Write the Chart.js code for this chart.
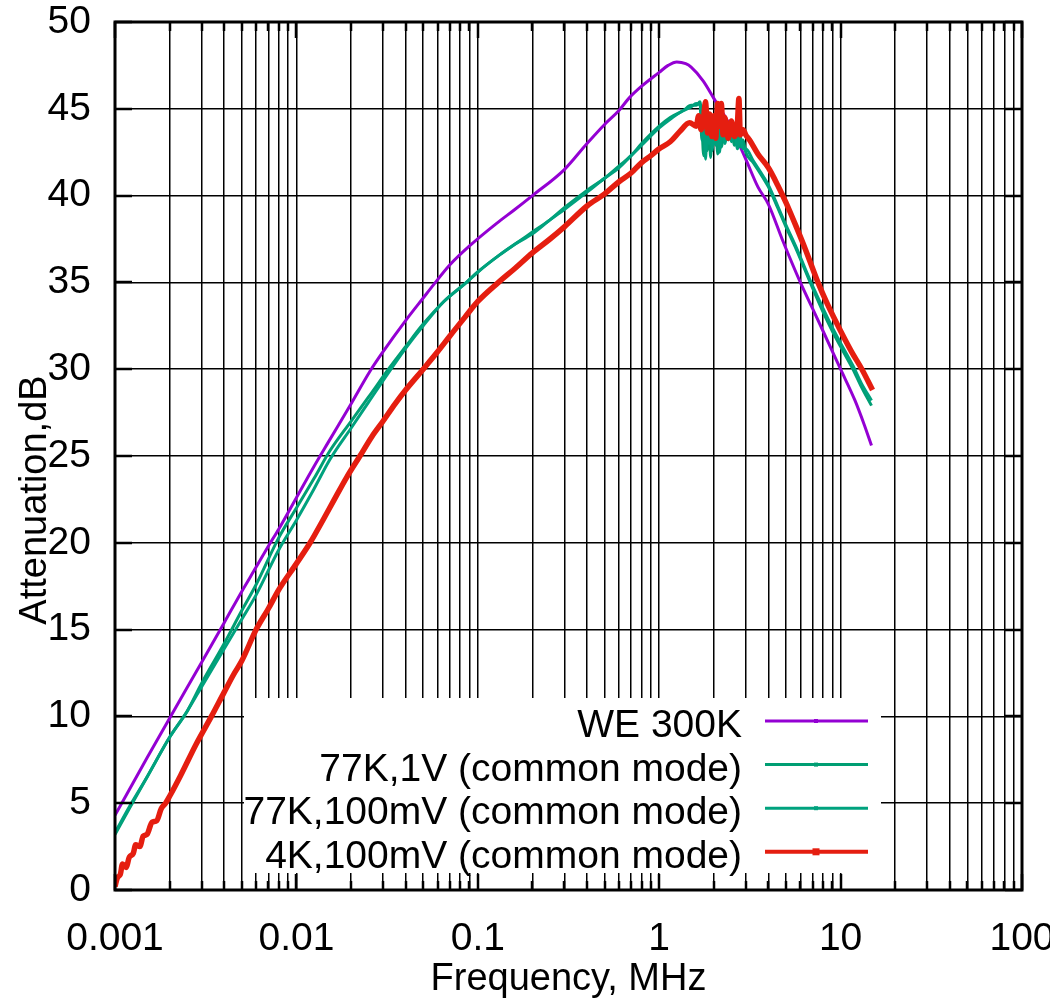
<!DOCTYPE html>
<html>
<head>
<meta charset="utf-8">
<script src="https://cdn.jsdelivr.net/npm/chart.js@4.4.1/dist/chart.umd.min.js"></script>
<style>
html, body { margin: 0; padding: 0; overflow: hidden; background: #fff; }
</style>
</head>
<body>
<canvas id="chart" width="1050" height="1000"></canvas>
<script>
// axis ticks
const xTickValues = [0.001, 0.01, 0.1, 1, 10, 100];
const xTickLabels = ['0.001', '0.01', '0.1', '1', '10', '100'];
const yTickValues = [0, 5, 10, 15, 20, 25, 30, 35, 40, 45, 50];

// WE 300K
const weFreq = [0.001, 0.0015, 0.002, 0.003, 0.004, 0.005, 0.006, 0.007, 0.008, 0.01, 0.0125, 0.015, 0.02, 0.0255, 0.03, 0.04, 0.05, 0.0574, 0.07, 0.09, 0.127, 0.16, 0.2, 0.3, 0.4, 0.5, 0.6, 0.68, 0.8, 1.0, 1.12, 1.25, 1.4, 1.5, 1.75, 2.0, 2.5, 3.0, 3.5, 4.0, 4.8, 6.0, 7.0, 8.0, 10, 12, 13.5, 14.8];
const weAtt = [4.3, 7.6, 9.9, 13.1, 15.4, 17.2, 18.6, 19.8, 20.8, 22.6, 24.4, 25.8, 28.0, 29.9, 31.0, 32.8, 34.1, 34.9, 36.0, 37.1, 38.4, 39.2, 40.0, 41.5, 43.0, 44.1, 44.9, 45.6, 46.3, 47.1, 47.5, 47.7, 47.6, 47.4, 46.6, 45.6, 43.9, 42.1, 40.5, 39.5, 37.4, 35.0, 33.5, 32.2, 30.0, 28.2, 26.8, 25.6];

// 77K, 1V
const k77v1Freq = [0.001, 0.0012, 0.0015, 0.002, 0.0025, 0.003, 0.004, 0.005, 0.006, 0.008, 0.01, 0.0125, 0.0153, 0.02, 0.025, 0.0327, 0.04, 0.05, 0.065, 0.0866, 0.1, 0.1325, 0.16, 0.2, 0.25, 0.3, 0.4, 0.5, 0.6, 0.7, 0.8, 1.0, 1.15, 1.36, 1.5, 1.6, 1.68, 1.72, 1.76, 1.8, 1.84, 1.88, 1.92, 1.96, 2.0, 2.05, 2.1, 2.15, 2.2, 2.3, 2.4, 2.5, 2.6, 2.7, 2.8, 2.9, 3.0, 3.3, 3.75, 4.0, 4.5, 5.0, 5.7, 6.8, 8.0, 9.0, 10, 11.7, 13, 14.8];
const k77v1Att = [3.2, 4.7, 6.5, 8.8, 10.3, 11.9, 14.2, 16.1, 17.6, 20.3, 22.0, 23.7, 25.3, 27.0, 28.4, 30.1, 31.3, 32.6, 33.9, 35.0, 35.6, 36.6, 37.2, 37.9, 38.6, 39.3, 40.3, 41.0, 41.7, 42.3, 43.0, 44.0, 44.5, 44.9, 45.2, 45.2, 45.4, 44.0, 42.3, 44.6, 42.6, 44.5, 42.2, 44.0, 43.0, 44.4, 42.4, 43.8, 42.8, 44.2, 43.2, 44.0, 42.9, 43.6, 42.8, 43.2, 42.5, 41.9, 41.0, 40.5, 39.3, 38.2, 36.9, 35.0, 33.3, 32.2, 31.3, 30.0, 29.0, 27.9];

// 77K, 100mV
const k77mvFreq = [0.001, 0.0012, 0.0015, 0.002, 0.0025, 0.003, 0.004, 0.005, 0.006, 0.008, 0.01, 0.0125, 0.0153, 0.02, 0.025, 0.0327, 0.04, 0.05, 0.065, 0.0866, 0.1, 0.1325, 0.16, 0.2, 0.25, 0.3, 0.4, 0.5, 0.6, 0.7, 0.8, 1.0, 1.15, 1.36, 1.5, 1.6, 1.68, 1.72, 1.76, 1.8, 1.84, 1.88, 1.92, 1.96, 2.0, 2.05, 2.1, 2.15, 2.2, 2.3, 2.4, 2.5, 2.6, 2.7, 2.8, 2.9, 3.0, 3.3, 3.75, 4.0, 4.5, 5.0, 5.7, 6.8, 8.0, 9.0, 10, 11.7, 13, 14.8];
const k77mvAtt = [3.3, 4.8, 6.5, 8.8, 10.3, 11.7, 13.9, 15.6, 17.0, 19.6, 21.3, 23.1, 24.8, 26.6, 28.1, 29.9, 31.2, 32.5, 33.9, 35.0, 35.6, 36.6, 37.2, 37.8, 38.6, 39.2, 40.2, 41.0, 41.6, 42.3, 42.9, 43.9, 44.4, 44.9, 45.1, 45.3, 45.2, 43.2, 44.8, 42.1, 44.2, 43.0, 44.7, 42.6, 44.3, 42.9, 44.0, 42.5, 43.9, 43.0, 44.1, 43.1, 43.8, 42.7, 43.4, 42.7, 42.7, 42.0, 41.1, 40.6, 39.4, 38.3, 37.0, 35.1, 33.5, 32.4, 31.5, 30.2, 29.2, 28.2];

// 4K, 100mV
const k4Freq = [0.001, 0.00103, 0.00107, 0.0011, 0.00115, 0.0012, 0.00126, 0.0013, 0.00137, 0.00143, 0.0015, 0.0016, 0.0017, 0.0018, 0.0019, 0.002, 0.0023, 0.0028, 0.0034, 0.004, 0.0045, 0.005, 0.006, 0.007, 0.008, 0.01, 0.0119, 0.014, 0.016, 0.019, 0.0224, 0.026, 0.03, 0.035, 0.04, 0.05, 0.06, 0.07, 0.085, 0.1, 0.13, 0.16, 0.2, 0.25, 0.3, 0.4, 0.5, 0.6, 0.7, 0.8, 0.9, 1.0, 1.15, 1.3, 1.47, 1.6, 1.65, 1.7, 1.75, 1.8, 1.85, 1.9, 1.95, 2.0, 2.05, 2.1, 2.15, 2.2, 2.25, 2.3, 2.4, 2.5, 2.6, 2.7, 2.75, 2.8, 2.9, 3.0, 3.15, 3.5, 4.0, 4.5, 5.0, 5.7, 6.4, 7.5, 8.5, 10, 11.5, 13.1, 15];
const k4Att = [0.2, 0.7, 0.9, 1.5, 1.3, 1.9, 2.1, 2.6, 2.5, 3.1, 3.2, 3.9, 4.0, 4.7, 5.0, 5.4, 6.6, 8.4, 10.0, 11.4, 12.4, 13.2, 15.0, 16.2, 17.3, 18.8, 20.0, 21.3, 22.4, 23.8, 25.0, 26.1, 27.0, 28.0, 28.8, 30.0, 31.0, 31.9, 33.0, 33.9, 35.0, 35.8, 36.7, 37.5, 38.2, 39.4, 40.1, 40.8, 41.3, 41.9, 42.3, 42.7, 43.1, 43.7, 44.2, 44.0, 44.6, 43.8, 44.3, 45.4, 43.6, 44.7, 43.4, 44.6, 43.3, 45.3, 44.0, 45.3, 43.5, 44.5, 43.3, 44.3, 43.4, 44.2, 45.6, 43.5, 43.8, 43.5, 43.2, 42.4, 41.6, 40.6, 39.6, 38.2, 36.9, 35.0, 33.7, 32.2, 31.0, 30.0, 28.8];

const seriesLabels = ['WE 300K', '77K,1V (common mode)', '77K,100mV (common mode)', '4K,100mV (common mode)'];
const seriesColors = ['#9400d3', '#009e73', '#00a27e', '#e51e10'];
const seriesWidths = [3, 3, 3, 5.5];

const FONT = '"Liberation Sans", Arial, sans-serif';

function toPoints(fs, vs) {
    return fs.map((f, i) => ({ x: f, y: vs[i] }));
}

// minor ticks 2..9 inside each decade
const xAllTicks = [];
xTickValues.forEach((d, i) => {
    xAllTicks.push({ value: d, major: true });
    if (i < xTickValues.length - 1) {
        for (let m = 2; m <= 9; m++) xAllTicks.push({ value: d * m, major: false });
    }
});

const legendBox = { left: 244, top: 698, right: 881, bottom: 873 };

const framePlugin = {
    id: 'framePlugin',
    beforeDatasetsDraw(chart) {
        const ctx = chart.ctx;
        ctx.save();
        ctx.fillStyle = '#fff';
        ctx.fillRect(legendBox.left, legendBox.top, legendBox.right - legendBox.left, legendBox.bottom - legendBox.top);
        ctx.restore();
    },
    afterDraw(chart) {
        const ctx = chart.ctx;
        const a = chart.chartArea;
        const xs = chart.scales.x;
        const ys = chart.scales.y;
        ctx.save();
        ctx.strokeStyle = '#000';
        ctx.lineWidth = 2.5;
        ctx.beginPath();
        xAllTicks.forEach(t => {
            const px = Math.round(xs.getPixelForValue(t.value));
            const len = t.major ? 16 : 9;
            ctx.moveTo(px, a.bottom); ctx.lineTo(px, a.bottom - len);
            ctx.moveTo(px, a.top); ctx.lineTo(px, a.top + len);
        });
        yTickValues.forEach(v => {
            const py = Math.round(ys.getPixelForValue(v));
            ctx.moveTo(a.left, py); ctx.lineTo(a.left + 17, py);
            ctx.moveTo(a.right, py); ctx.lineTo(a.right - 17, py);
        });
        ctx.stroke();
        ctx.lineWidth = 3;
        ctx.strokeRect(a.left, a.top, a.right - a.left, a.bottom - a.top);

        // axis titles
        ctx.fillStyle = '#000';
        ctx.font = '38px ' + FONT;
        ctx.textAlign = 'center';
        ctx.textBaseline = 'alphabetic';
        ctx.fillText('Frequency, MHz', (a.left + a.right) / 2, 990);
        ctx.save();
        ctx.translate(46, 500);
        ctx.rotate(-Math.PI / 2);
        ctx.fillText('Attenuation,dB', 0, 0);
        ctx.restore();

        // legend
        ctx.font = '39px ' + FONT;
        ctx.textAlign = 'right';
        seriesLabels.forEach((label, i) => {
            const rowY = 721 + i * 43.6;
            ctx.fillStyle = '#000';
            ctx.fillText(label, 742, rowY + 16);
            ctx.strokeStyle = seriesColors[i];
            ctx.lineWidth = i === 3 ? 4 : 3;
            ctx.beginPath();
            ctx.moveTo(765, rowY);
            ctx.lineTo(868, rowY);
            ctx.stroke();
            ctx.fillStyle = seriesColors[i];
            const s = i === 3 ? 7 : 4;
            ctx.fillRect(816 - s / 2, rowY - s / 2, s, s);
        });
        ctx.restore();
    }
};

const datasets = [
    toPoints(weFreq, weAtt),
    toPoints(k77v1Freq, k77v1Att),
    toPoints(k77mvFreq, k77mvAtt),
    toPoints(k4Freq, k4Att)
].map((pts, i) => ({
    label: seriesLabels[i],
    data: pts,
    borderColor: seriesColors[i],
    backgroundColor: seriesColors[i],
    borderWidth: seriesWidths[i],
    pointRadius: 0,
    cubicInterpolationMode: 'monotone',
    fill: false,
    order: 4 - i
}));

const ctx = document.getElementById('chart').getContext('2d');
new Chart(ctx, {
    type: 'line',
    data: { datasets: datasets },
    options: {
        responsive: false,
        animation: false,
        layout: { padding: { top: 22, right: 28, bottom: 0, left: 0 } },
        plugins: {
            legend: { display: false },
            tooltip: { enabled: false }
        },
        scales: {
            x: {
                type: 'logarithmic',
                min: 0.001,
                max: 100,
                afterBuildTicks: s => { s.ticks = xAllTicks.map(t => ({ value: t.value, major: t.major })); },
                afterFit: s => { s.height = 110; s.paddingLeft = 0; s.paddingRight = 0; },
                border: { display: false },
                grid: { color: '#000', lineWidth: 1.5, drawTicks: false },
                ticks: {
                    autoSkip: false,
                    maxRotation: 0,
                    padding: 26,
                    color: '#000',
                    font: { family: FONT, size: 39 },
                    callback: v => {
                        const i = xTickValues.findIndex(d => Math.abs(d - v) / d < 1e-6);
                        return i >= 0 ? xTickLabels[i] : '';
                    }
                }
            },
            y: {
                min: 0,
                max: 50,
                afterBuildTicks: s => { s.ticks = yTickValues.map(v => ({ value: v })); },
                afterFit: s => { s.width = 115; s.paddingTop = 0; s.paddingBottom = 0; },
                border: { display: false },
                grid: { color: '#000', lineWidth: 1.5, drawTicks: false },
                ticks: {
                    padding: 24,
                    color: '#000',
                    font: { family: FONT, size: 39 },
                    callback: v => String(v)
                }
            }
        }
    },
    plugins: [framePlugin]
});
</script>
</body>
</html>
